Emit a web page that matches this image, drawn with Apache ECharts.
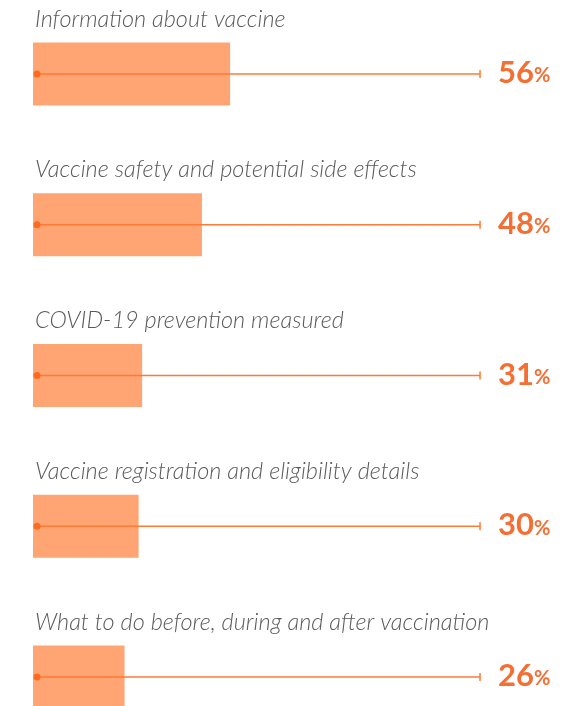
<!DOCTYPE html>
<html><head><meta charset="utf-8">
<style>html,body{margin:0;padding:0;background:#fff}#c{width:566px;height:706px}</style>
<script src="https://cdn.jsdelivr.net/npm/echarts@6/dist/echarts.min.js"></script>
</head><body><div id="c"></div>
<script>
var categories = [
  "Information about vaccine",
  "Vaccine safety and potential side effects",
  "COVID-19 prevention measured",
  "Vaccine registration and eligibility details",
  "What to do before, during and after vaccination"
];
var values = [56, 48, 31, 30, 26];
var trackEnd = 127;
var labelAt = 147;

var chart = echarts.init(document.getElementById('c'), null, {renderer: 'canvas'});
chart.setOption({
  animation: false,
  grid: {left: 33, top: 74, width: 528, bottom: 29},
  xAxis: {type: 'value', min: 0, max: 150, show: false},
  yAxis: {type: 'category', data: categories, inverse: true, show: false, boundaryGap: false},
  series: [
    {
      type: 'bar', data: values, barWidth: 63,
      itemStyle: {color: '#FFA574'}, silent: true
    },
    {
      type: 'custom', clip: false, z: 5,
      data: values.map(function (v, i) { return [v, i]; }),
      renderItem: function (params, api) {
        var i = api.value(1);
        var v = api.value(0);
        var p0 = api.coord([0, i]);
        var p1 = api.coord([trackEnd, i]);
        var pL = api.coord([labelAt, i]);
        var y = p0[1];
        return {
          type: 'group',
          children: [
            {type: 'text', style: {x: p0[0] + 2, y: y - 55, text: categories[i],
              font: 'italic 300 23.5px Lato', fill: '#5a5a5a', verticalAlign: 'middle', align: 'left'}},
            {type: 'line', shape: {x1: p0[0] + 4, y1: y, x2: p1[0], y2: y},
              style: {stroke: '#FF7A35', lineWidth: 1.5}},
            {type: 'circle', shape: {cx: p0[0] + 4, cy: y, r: 3.5},
              style: {fill: '#FF6A1F'}},
            {type: 'line', shape: {x1: p1[0], y1: y - 4, x2: p1[0], y2: y + 4},
              style: {stroke: '#FF7A35', lineWidth: 1.5}},
            {type: 'text', style: {x: pL[0], y: y - 1, text: '{n|' + v + '}{p|%}',
              align: 'right', verticalAlign: 'middle',
              rich: {
                n: {font: 'bold 31px Lato', fill: '#F36F34', letterSpacing: -1},
                p: {font: 'bold 20px Lato', fill: '#F36F34', padding: [6, 0, 0, 0]}
              }}}
          ]
        };
      }
    }
  ]
});
</script></body></html>
